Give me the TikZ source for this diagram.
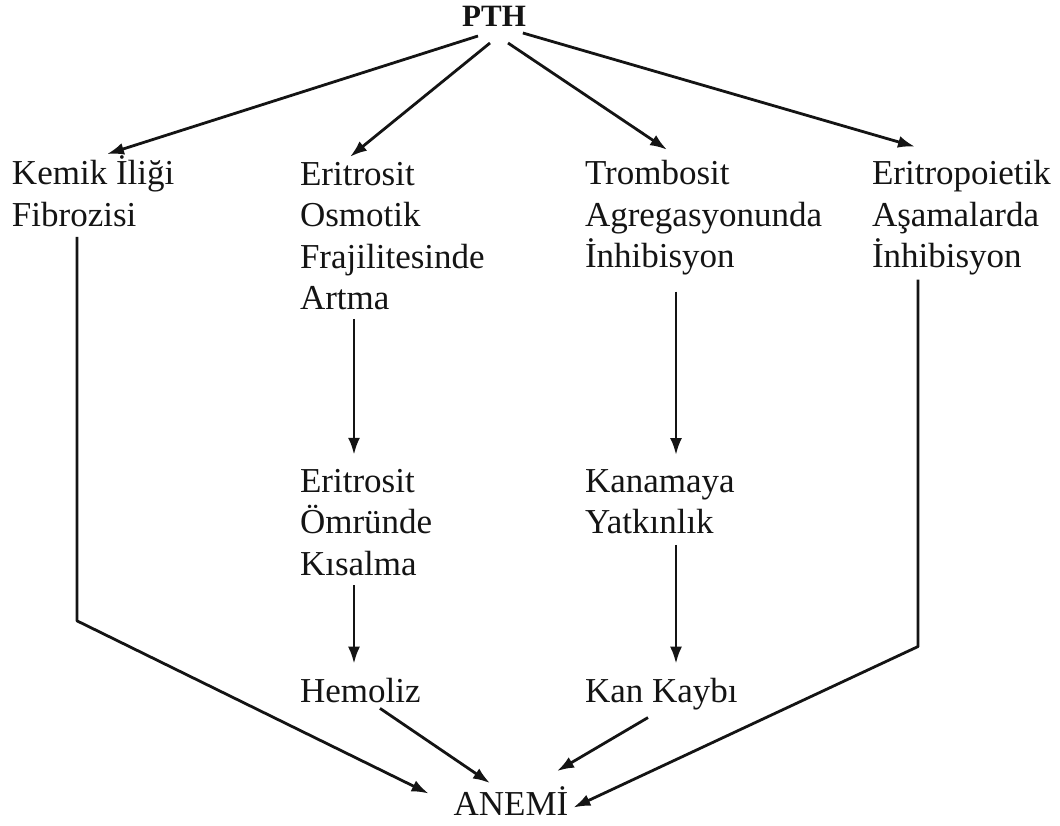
\documentclass[tikz,border=0pt]{standalone}
\usepackage{fontspec}
\setmainfont{Liberation Serif}
\usetikzlibrary{arrows.meta,calc}
\colorlet{ink}{black!92}
\newcommand{\yazi}{\fontsize{35}{41.5}\selectfont}
\newcommand{\baslik}{\bfseries\fontsize{31}{36}\selectfont}

\begin{document}
\begin{tikzpicture}[x=1pt,y=-1pt,
	metin/.style={align=left,inner sep=0pt,outer sep=0pt,%
		font=\yazi,text=ink,anchor=base west},
	ok/.style={draw=ink,line width=2.8pt,line join=round,%
		-{Latex[length=17pt,width=12pt]}}
	]
	\useasboundingbox (0,0) rectangle (1060,826);

	% metinler (son satirin tabani)
	\node[metin,anchor=base,font=\baslik] (pth) at (494,27) {PTH};
	\node[metin] (kemik) at (12,226.5) {Kemik İliği\\Fibrozisi};
	\node[metin] (osmotik) at (300,309.5) {Eritrosit\\Osmotik\\Frajilitesinde\\Artma};
	\node[metin] (trombosit) at (585,268) {Trombosit\\Agregasyonunda\\İnhibisyon};
	\node[metin] (eritro) at (872,268) {Eritropoietik\\Aşamalarda\\İnhibisyon};
	\node[metin] (omur) at (300,575) {Eritrosit\\Ömründe\\Kısalma};
	\node[metin] (kanama) at (585,533.5) {Kanamaya\\Yatkınlık};
	\node[metin] (hemoliz) at (300,702) {Hemoliz};
	\node[metin] (kayip) at (585,702) {Kan Kaybı};
	\node[metin,anchor=base] (anemi) at (511,815) {ANEMİ};

	% PTH oklari
	\draw[ok] ($(pth.south)+(-16,9)$) -- ($(kemik.north west)+(95,-2)$);
	\draw[ok] ($(pth.south)+(-4,16)$) -- ($(osmotik.north west)+(50,-5)$);
	\draw[ok] ($(pth.south)+(14,16)$) -- ($(trombosit.north west)+(82,-11)$);
	\draw[ok] ($(pth.south east)+(-3,6)$) -- ($(eritro.north west)+(43,-14)$);

	% dikey oklar
	\draw[ok] ($(osmotik.south west)+(54,9)$) -- ($(omur.north west)+(54,-14)$);
	\draw[ok] ($(omur.south west)+(54,10)$) -- ($(hemoliz.north west)+(54,-14)$);
	\draw[ok] ($(trombosit.south west)+(91,16)$) -- ($(kanama.north west)+(91,-14)$);
	\draw[ok] ($(kanama.south west)+(91,11)$) -- ($(kayip.north west)+(91,-14)$);

	% ANEMI oklari
	\draw[ok] ($(kemik.south west)+(65,10)$) -- ++(0,384) -- ($(anemi.west)+(-25,-7)$);
	\draw[ok] ($(hemoliz.south west)+(80,6)$) -- ($(anemi.north)+(-21,-3)$);
	\draw[ok] ($(kayip.south west)+(63,8)$) -- ($(anemi.north)+(46,-15)$);
	\draw[ok] ($(eritro.south west)+(46,4)$) -- ++(0,367) -- ($(anemi.east)+(5,7)$);
\end{tikzpicture}
\end{document}
